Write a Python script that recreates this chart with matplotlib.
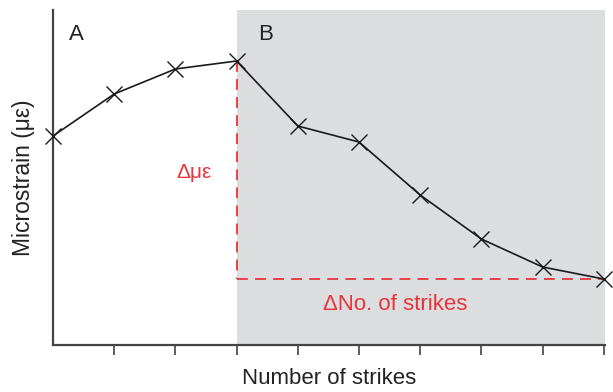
import matplotlib
matplotlib.use("Agg")
import matplotlib.pyplot as plt

plt.rcParams['font.family'] = ['Liberation Sans', 'DejaVu Sans']

strikes = [0, 1, 2, 3, 4, 5, 6, 7, 8, 9]
strain = [209, 251, 276, 284, 219, 203, 150, 106, 78, 66]
tick_positions = [1, 2, 3, 4, 5, 6, 7, 8, 9]
change_idx = 3

fig = plt.figure(figsize=(6.13, 3.92), dpi=100)
ax = fig.add_axes([53/613, 1-345/392, (605-53)/613, (345-10)/392])
ax.set_xlim(0, 9.02)
ax.set_ylim(0, 335)

ax.axvspan(strikes[change_idx], 9.02, color='#dcdddf', lw=0, zorder=0)

red = '#e8343c'
ax.plot([strikes[change_idx], strikes[change_idx]], [strain[change_idx], strain[-1]],
        ls=(0, (6, 4)), color=red, lw=1.3, zorder=1)
ax.plot([strikes[change_idx], strikes[-1]], [strain[-1], strain[-1]],
        ls=(0, (6, 4)), color=red, lw=1.3, zorder=1)

ax.plot(strikes, strain, color='#1a1a1a', lw=1.2, marker='x', ms=12,
        mew=1.0, clip_on=False, zorder=3)

for s in ['top', 'right']:
    ax.spines[s].set_visible(False)
for s in ['left', 'bottom']:
    ax.spines[s].set_color('#444444')
    ax.spines[s].set_linewidth(1.6)

ax.set_xticks(tick_positions)
ax.set_xticklabels([])
ax.set_yticks([])
ax.tick_params(axis='x', direction='out', length=7, width=1.2, color='#444444')

ax.text(0.38, 310, 'A', fontsize=16, color='#222222', va='center', ha='center')
ax.text(3.48, 310, 'B', fontsize=16, color='#222222', va='center', ha='center')
ax.text(2.30, 172, 'Δμε', fontsize=15, color=red, va='center', ha='center')
ax.text(5.59, 40, 'ΔNo. of strikes', fontsize=16, color=red, va='center', ha='center')

ax.set_xlabel('Number of strikes', fontsize=16, color='#222222', labelpad=6)
ax.set_ylabel('Microstrain (με)', fontsize=16.5, color='#222222', labelpad=13)

fig.savefig('out.png', dpi=100)
